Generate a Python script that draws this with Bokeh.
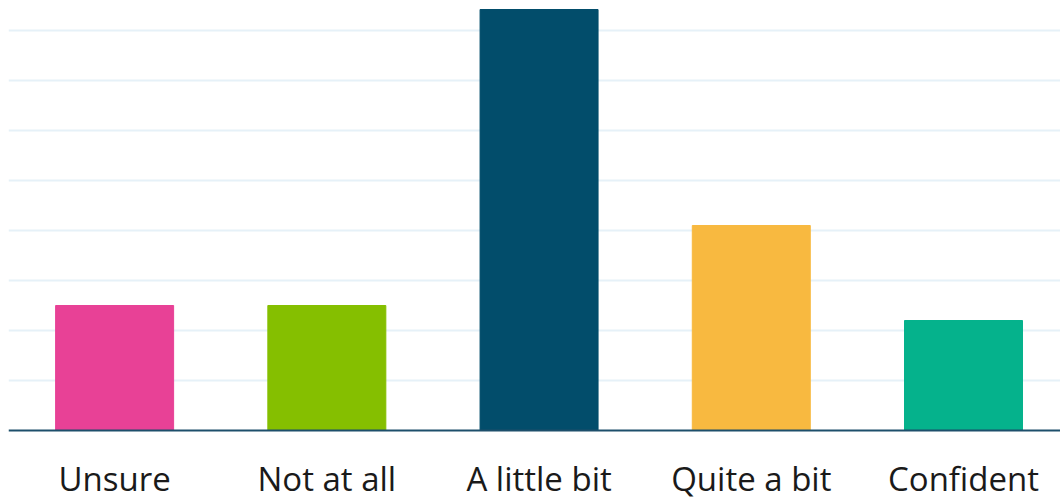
from bokeh.plotting import figure
from bokeh.models import ColumnDataSource, Range1d, FixedTicker, Span
from bokeh.core.properties import value
from bokeh.embed import file_html
from bokeh.resources import INLINE

# Confidence survey responses
categories = ["Unsure", "Not at all", "A little bit", "Quite a bit", "Confident"]
values = [12.5, 12.5, 42.1, 20.5, 11.0]
colors = ["#e84196", "#85bf00", "#024d6b", "#f8b940", "#05b28c"]
grid_values = [5, 10, 15, 20, 25, 30, 35, 40]

positions = list(range(len(categories)))
source = ColumnDataSource(dict(x=positions, top=values, color=colors, label=categories))

# the frame runs down to the bottom edge; the space below zero holds the category names
p = figure(
    width=1060, height=499,
    x_range=Range1d(-0.5, 4.457), y_range=Range1d(-6.9, 43),
    output_backend="svg", toolbar_location=None,
    min_border_left=8, min_border_right=0, min_border_top=0, min_border_bottom=0,
)
p.outline_line_color = None
p.background_fill_color = "white"
p.border_fill_color = "white"
p.xaxis.visible = False
p.yaxis.visible = False

# horizontal grid only
p.xgrid.grid_line_color = None
p.ygrid.ticker = FixedTicker(ticks=grid_values)
p.ygrid.grid_line_color = "#e6f1f8"
p.ygrid.grid_line_width = 2

p.vbar(x="x", top="top", bottom=0, width=0.556, color="color", source=source)

# baseline
p.add_layout(Span(location=0, dimension="width", line_color="#1d4f6b", line_width=2))

# category names under each bar
p.text(x="x", y=-4.8, text="label", source=source,
       text_font=value("Open Sans"), text_font_size="33px", text_color="#1a1a1a",
       text_align="center", text_baseline="middle")

open("out.html", "w").write(file_html(p, INLINE))
